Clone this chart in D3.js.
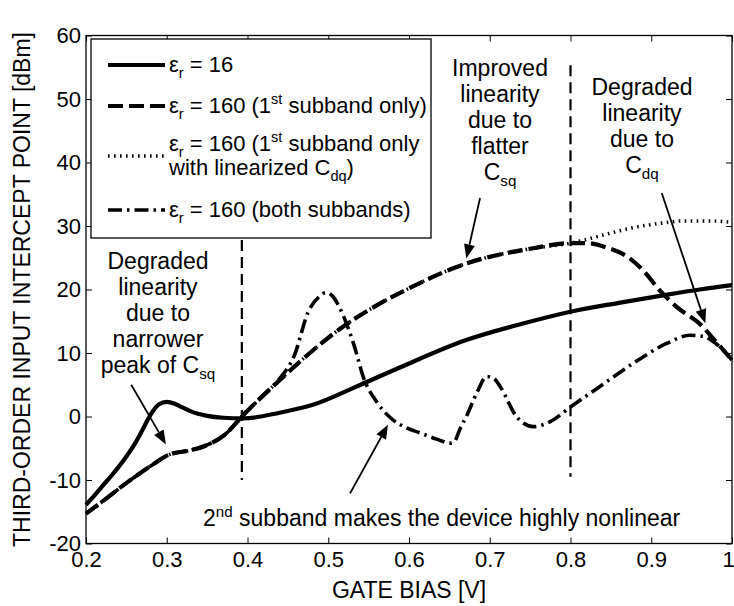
<!DOCTYPE html>
<html><head><meta charset="utf-8">
<script src="https://cdn.jsdelivr.net/npm/d3@7"></script>
<style>
body{margin:0;background:#fff}
svg text{font-family:"Liberation Sans",Arial,Helvetica,sans-serif;fill:#000}
</style>
</head><body>
<svg id="chart" width="734" height="606"></svg>
<script>
// ---------------- data ----------------
const xTicks = [0.2,0.3,0.4,0.5,0.6,0.7,0.8,0.9,1.0];
const xTickLabels = ["0.2","0.3","0.4","0.5","0.6","0.7","0.8","0.9","1"];
const yTicks = [-20,-10,0,10,20,30,40,50,60];
const yTickLabels = ["-20","-10","0","10","20","30","40","50","60"];
const xAxisTitle = "GATE BIAS [V]";
const yAxisTitle = "THIRD-ORDER INPUT INTERCEPT POINT [dBm]";

// eps_r = 16
const solidX = [0.2,0.21,0.22,0.233,0.25,0.26,0.27,0.28,0.29,0.30,0.31,0.32,0.33,0.35,0.37,0.395,0.44,0.48,0.54,0.59,0.67,0.74,0.80,0.86,0.92,0.96,1.0];
const solidY = [-13.9,-12.5,-11.0,-9.1,-6.3,-4.4,-2.1,0.3,1.9,2.3,2.0,1.4,0.8,0.1,-0.2,-0.3,0.6,1.8,5.0,7.8,12.0,14.6,16.5,17.9,19.2,20.0,20.7];
// eps_r = 160 (1st subband only)
const dashedX = [0.2,0.22,0.254,0.28,0.303,0.33,0.348,0.372,0.395,0.438,0.479,0.52,0.56,0.597,0.671,0.754,0.80,0.82,0.845,0.87,0.89,0.911,0.931,0.96,0.98,1.0];
const dashedY = [-15.3,-13.4,-10.1,-7.8,-6.0,-5.3,-4.6,-2.85,0.27,5.5,10.2,14.3,17.5,20.0,24.1,26.5,27.3,27.3,26.6,25.2,23.0,19.8,17.3,14.6,11.8,8.9];
// eps_r = 160 (1st subband only, linearized Cdq)
const dottedX = [0.2,0.22,0.254,0.28,0.303,0.33,0.348,0.372,0.395,0.438,0.479,0.52,0.56,0.597,0.671,0.754,0.80,0.82,0.85,0.88,0.91,0.94,0.97,1.0];
const dottedY = [-15.3,-13.4,-10.1,-7.8,-6.0,-5.3,-4.6,-2.85,0.27,5.5,10.2,14.3,17.5,20.0,24.1,26.5,27.3,27.9,28.9,29.8,30.4,30.8,30.8,30.6];
// eps_r = 160 (both subbands)
const dashDotX = [0.2,0.22,0.254,0.28,0.303,0.33,0.348,0.372,0.395,0.42,0.44,0.458,0.475,0.49,0.497,0.505,0.515,0.532,0.544,0.56,0.577,0.597,0.614,0.635,0.651,0.656,0.663,0.671,0.685,0.696,0.705,0.713,0.733,0.754,0.775,0.80,0.836,0.878,0.919,0.948,0.965,0.98,1.0];
const dashDotY = [-15.3,-13.4,-10.1,-7.8,-6.0,-5.3,-4.6,-2.85,0.27,3.4,6.0,9.6,16.4,19.0,19.5,19.0,16.9,11.2,6.0,2.3,-0.2,-1.8,-2.6,-3.6,-4.2,-4.0,-2.0,0,4.0,6.3,6.0,4.7,0,-1.6,-0.8,1.5,4.7,8.4,11.5,12.8,12.6,11.5,8.9];

// vertical marker lines (x, yTop, yBottom)
const markerX = [0.393,0.80];
const markerTop = [27.8,55.3];
const markerBottom = [-10,-9.5];

// ---------------- layout ----------------
const svg = d3.select("#chart");
const FONT = 22;
const x = d3.scaleLinear().domain([0.2,1]).range([86,732]);
const y = d3.scaleLinear().domain([-20,60]).range([543.5,35.5]);

svg.append("rect").attr("width",734).attr("height",606).attr("fill","#fff");

// axes
const ax = d3.axisBottom(x).tickValues(xTicks).tickFormat((d,i)=>xTickLabels[i]).tickSize(-6).tickPadding(8);
const gB = svg.append("g").attr("transform",`translate(0,${y(-20)})`).call(ax);
const gT = svg.append("g").attr("transform",`translate(0,${y(60)})`).call(d3.axisTop(x).tickValues(xTicks).tickFormat("").tickSize(-6));
const gL = svg.append("g").attr("transform",`translate(${x(0.2)},0)`).call(d3.axisLeft(y).tickValues(yTicks).tickFormat((d,i)=>yTickLabels[i]).tickSize(-6).tickPadding(5));
const gR = svg.append("g").attr("transform",`translate(${x(1)},0)`).call(d3.axisRight(y).tickValues(yTicks).tickFormat("").tickSize(-6));
[gB,gT,gL,gR].forEach(g=>{
  g.select(".domain").remove();
  g.selectAll("line").attr("stroke","#000").attr("stroke-width",1);
  g.selectAll("text").attr("font-size",FONT).attr("font-family",null).attr("fill","#000");
});
// keep last x label inside the picture
gB.selectAll(".tick text").filter(d=>d===1).attr("dx",-4);
svg.append("rect").attr("x",x(0.2)).attr("y",y(60)).attr("width",x(1)-x(0.2)).attr("height",y(-20)-y(60))
  .attr("fill","none").attr("stroke","#000").attr("stroke-width",1.3);

svg.append("text").attr("x",(x(0.2)+x(1))/2).attr("y",598).attr("text-anchor","middle").attr("font-size",23).text(xAxisTitle);
svg.append("text").attr("transform",`translate(30,${(y(60)+y(-20))/2}) rotate(-90)`).attr("text-anchor","middle").attr("font-size",23).text(yAxisTitle);

// vertical dashed markers
markerX.forEach((mx,i)=>{
  svg.append("line").attr("x1",x(mx)).attr("x2",x(mx)).attr("y1",y(markerTop[i])).attr("y2",y(markerBottom[i]))
    .attr("stroke","#000").attr("stroke-width",2.2).attr("stroke-dasharray","11 6");
});

// curves
const styles = {
  solid:{w:4.2,d:null},
  dashed:{w:4.2,d:"15 6"},
  dotted:{w:3.5,d:"1.6 4.4"},
  dashDot:{w:3.6,d:"14 5 2.5 5"}
};
const line = d3.line().x(d=>x(d[0])).y(d=>y(d[1])).curve(d3.curveMonotoneX);
function drawSeries(xs,ys,st){
  svg.append("path").datum(xs.map((v,i)=>[v,ys[i]])).attr("d",line)
    .attr("fill","none").attr("stroke","#000").attr("stroke-width",st.w)
    .attr("stroke-dasharray",st.d).attr("stroke-linejoin","round");
}
drawSeries(dottedX,dottedY,styles.dotted);
drawSeries(dashDotX,dashDotY,styles.dashDot);
drawSeries(dashedX,dashedY,styles.dashed);
drawSeries(solidX,solidY,styles.solid);

// legend
const lg = svg.append("g");
lg.append("rect").attr("x",91).attr("y",39).attr("width",340).attr("height",199).attr("fill","#fff").attr("stroke","#000").attr("stroke-width",1.3);
const legendRows = [
  {st:styles.solid, ly:65, lines:[[{t:"ε"},{t:"r",sub:1},{t:" = 16"}]], ty:[72]},
  {st:styles.dashed, ly:106, lines:[[{t:"ε"},{t:"r",sub:1},{t:" = 160 (1"},{t:"st",sup:1},{t:" subband only)"}]], ty:[113]},
  {st:styles.dotted, ly:156, lines:[[{t:"ε"},{t:"r",sub:1},{t:" = 160 (1"},{t:"st",sup:1},{t:" subband only"}],[{t:"with linearized C"},{t:"dq",sub:1},{t:")"}]], ty:[151,175]},
  {st:styles.dashDot, ly:210, lines:[[{t:"ε"},{t:"r",sub:1},{t:" = 160 (both subbands)"}]], ty:[217]}
];
function richText(g,parts,tx,ty,anchor,size){
  const t = g.append("text").attr("x",tx).attr("y",ty).attr("font-size",size).attr("text-anchor",anchor||"start");
  let cur = 0;
  parts.forEach(p=>{
    const s = t.append("tspan").text(p.t);
    const target = p.sub ? size*0.28 : (p.sup ? -size*0.4 : 0);
    if(p.sub || p.sup) s.attr("font-size",size*0.66);
    s.attr("dy",target-cur);
    cur = target;
  });
  return t;
}
legendRows.forEach(r=>{
  lg.append("line").attr("x1",108).attr("x2",165).attr("y1",r.ly).attr("y2",r.ly)
    .attr("stroke","#000").attr("stroke-width",r.st.w).attr("stroke-dasharray",r.st.d);
  r.lines.forEach((ln,i)=>richText(lg,ln,169,r.ty[i],"start",FONT));
});

// annotations
const AF = 23;
const ann = svg.append("g");
function block(lines,cx,by,gap){
  lines.forEach((ln,i)=>richText(ann,ln,cx,by+i*gap,"middle",AF));
}
block([[{t:"Degraded"}],[{t:"linearity"}],[{t:"due to"}],[{t:"narrower"}],[{t:"peak of C"},{t:"sq",sub:1}]], 158, 269, 26);
block([[{t:"Improved"}],[{t:"linearity"}],[{t:"due to"}],[{t:"flatter"}],[{t:"C"},{t:"sq",sub:1}]], 500, 76, 26);
block([[{t:"Degraded"}],[{t:"linearity"}],[{t:"due to"}],[{t:"C"},{t:"dq",sub:1}]], 642, 95, 26);
richText(ann,[{t:"2"},{t:"nd",sup:1},{t:" subband makes the device highly nonlinear"}],203,526,"start",AF);

// arrows (data coordinates: tail -> tip)
const arrowTail = [[0.256,5.0],[0.688,34.4],[0.913,35.2],[0.527,-12.1]];
const arrowTip  = [[0.299,-4.4],[0.671,24.9],[0.967,14.7],[0.574,-1.3]];
arrowTail.forEach((t,i)=>{
  const x0=x(t[0]), y0=y(t[1]), x1=x(arrowTip[i][0]), y1=y(arrowTip[i][1]);
  const L=Math.hypot(x1-x0,y1-y0), ux=(x1-x0)/L, uy=(y1-y0)/L;
  const hl=14, hw=5.5;
  const bx=x1-ux*hl, by=y1-uy*hl;
  ann.append("line").attr("x1",x0).attr("y1",y0).attr("x2",bx).attr("y2",by).attr("stroke","#000").attr("stroke-width",1.8);
  ann.append("path").attr("d",`M${x1},${y1}L${bx-uy*hw},${by+ux*hw}L${bx+uy*hw},${by-ux*hw}Z`).attr("fill","#000");
});
</script>
</body></html>
